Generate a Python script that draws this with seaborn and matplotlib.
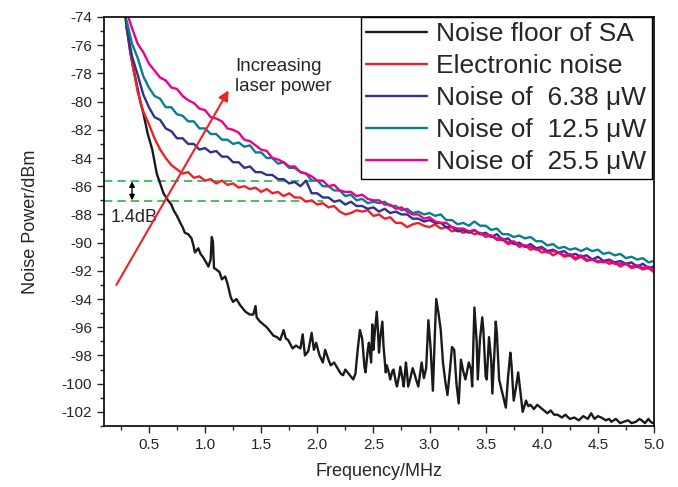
import numpy as np
import pandas as pd
import matplotlib
matplotlib.use('Agg')
import matplotlib.pyplot as plt
import seaborn as sns
from matplotlib.ticker import MultipleLocator, FormatStrFormatter

# legend labels and colours
labels = ['Noise floor of SA', 'Electronic noise', 'Noise of  6.38 μW',
          'Noise of  12.5 μW', 'Noise of  25.5 μW']
colors = ['#1a1a1a', '#ec2227', '#2e3192', '#0a7f8c', '#ec008c']

# noise floor of the spectrum analyser (irregular sampling)
sa_freq = [0.29, 0.33, 0.36, 0.39, 0.42, 0.45, 0.49, 0.53, 0.57, 0.60,
           0.63, 0.67, 0.70, 0.72, 0.75, 0.78, 0.80, 0.82, 0.85, 0.88,
           0.90, 0.91, 0.94, 0.96, 0.98, 1.01, 1.03, 1.05, 1.06, 1.07,
           1.08, 1.10, 1.13, 1.15, 1.18, 1.20, 1.23, 1.25, 1.28, 1.31,
           1.34, 1.36, 1.40, 1.43, 1.45, 1.46, 1.49, 1.52, 1.55, 1.58,
           1.61, 1.64, 1.67, 1.70, 1.72, 1.74, 1.78, 1.81, 1.85, 1.87,
           1.89, 1.92, 1.95, 1.97, 1.99, 2.02, 2.05, 2.07, 2.10, 2.12,
           2.15, 2.18, 2.21, 2.23, 2.25, 2.28, 2.30, 2.32, 2.34, 2.36,
           2.38, 2.40, 2.42, 2.43, 2.45, 2.46, 2.48, 2.49, 2.50, 2.51,
           2.53, 2.54, 2.55, 2.56, 2.58, 2.59, 2.61, 2.62, 2.64, 2.65,
           2.67, 2.68, 2.70, 2.71, 2.73, 2.74, 2.76, 2.77, 2.79, 2.80,
           2.81, 2.83, 2.85, 2.87, 2.88, 2.90, 2.93, 2.95, 2.97, 2.99,
           3.01, 3.03, 3.05, 3.06, 3.08, 3.10, 3.12, 3.14, 3.16, 3.18,
           3.20, 3.22, 3.24, 3.26, 3.28, 3.30, 3.32, 3.35, 3.37, 3.38,
           3.40, 3.42, 3.43, 3.45, 3.47, 3.48, 3.50, 3.51, 3.53, 3.55,
           3.56, 3.58, 3.59, 3.60, 3.62, 3.65, 3.68, 3.70, 3.72, 3.73,
           3.75, 3.77, 3.79, 3.81, 3.83, 3.86, 3.88, 3.90, 3.93, 3.96,
           3.99, 4.02, 4.05, 4.08, 4.11, 4.14, 4.18, 4.21, 4.25, 4.29,
           4.33, 4.37, 4.41, 4.44, 4.47, 4.50, 4.53, 4.57, 4.60, 4.62,
           4.66, 4.70, 4.73, 4.77, 4.80, 4.84, 4.87, 4.89, 4.92, 4.95,
           4.97, 4.99]
sa_power = [-74.0, -76.3, -77.6, -78.7, -79.9, -80.8, -82.3, -83.4, -85.1, -85.8,
            -86.5, -87.0, -87.3, -87.7, -88.1, -88.6, -88.9, -89.3, -89.4, -89.7,
            -90.3, -90.7, -90.4, -90.8, -91.0, -91.4, -91.7, -91.2, -89.6, -89.9,
            -91.8, -91.9, -92.1, -92.6, -92.4, -92.9, -93.9, -94.2, -94.0, -94.4,
            -94.7, -94.9, -95.1, -95.1, -94.5, -95.3, -95.6, -95.8, -96.0, -96.3,
            -96.6, -96.7, -96.9, -96.2, -96.8, -96.9, -97.5, -97.3, -97.5, -96.5,
            -98.0, -97.7, -96.4, -97.6, -97.1, -98.0, -98.5, -97.6, -98.3, -98.7,
            -98.5, -98.9, -99.3, -99.4, -99.0, -99.3, -99.5, -99.7, -99.3, -97.6,
            -96.2, -96.8, -98.8, -99.2, -97.6, -97.1, -98.5, -95.8, -97.6, -96.6,
            -94.9, -96.2, -97.8, -96.8, -95.6, -97.3, -99.2, -98.7, -99.3, -99.7,
            -99.1, -99.0, -99.9, -100.2, -99.4, -98.8, -99.7, -100.2, -98.5, -99.3,
            -100.2, -99.6, -98.9, -99.4, -99.7, -100.2, -98.5, -99.6, -98.9, -95.5,
            -97.5, -100.5, -96.0, -94.0, -95.0, -96.2, -98.5, -99.8, -100.8, -99.2,
            -97.4, -97.6, -100.0, -101.4, -98.3, -99.1, -99.7, -98.5, -99.0, -100.2,
            -94.6, -97.0, -99.7, -96.8, -95.3, -96.2, -99.5, -99.7, -96.7, -98.4,
            -100.7, -97.5, -95.6, -96.4, -99.7, -100.7, -101.7, -99.5, -97.8, -98.6,
            -101.2, -100.3, -99.2, -100.6, -102.0, -101.2, -101.6, -101.5, -101.8, -101.5,
            -101.7, -101.9, -102.1, -101.9, -102.2, -102.2, -102.4, -102.2, -102.5, -102.4,
            -102.6, -102.3, -102.5, -102.1, -102.5, -102.3, -102.4, -102.6, -102.5, -102.7,
            -102.5, -102.8, -102.7, -102.6, -102.8, -102.7, -102.5, -102.6, -102.8, -102.5,
            -102.7, -102.8]

# the four other traces share one frequency grid, 0.30 ... 5.00 MHz
freq = np.round(np.arange(0.30, 5.001, 0.05), 2)

electronic = [-74.6, -77.2, -79.3, -80.7, -81.6, -82.6, -83.4, -84.0, -84.5, -84.8,
              -85.1, -85.0, -85.4, -85.3, -85.6, -85.5, -85.8, -85.6, -85.9, -85.8,
              -86.1, -86.0, -86.2, -86.1, -86.4, -86.2, -86.5, -86.4, -86.7, -86.5,
              -86.8, -86.8, -87.1, -87.0, -87.3, -87.2, -87.5, -87.4, -87.8, -88.0,
              -87.9, -87.7, -87.8, -87.7, -88.1, -88.0, -88.3, -88.2, -88.6, -88.6,
              -88.9, -88.7, -88.6, -88.8, -88.9, -88.7, -89.0, -88.9, -89.2, -89.1,
              -89.3, -89.2, -89.4, -89.3, -89.6, -89.5, -89.8, -89.8, -90.1, -90.0,
              -90.3, -90.2, -90.5, -90.4, -90.7, -90.6, -90.9, -90.7, -91.0, -90.9,
              -91.2, -91.0, -91.3, -91.2, -91.4, -91.3, -91.5, -91.4, -91.7, -91.5,
              -91.8, -91.7, -91.9, -91.8, -92.1]

p_638 = [-74.7, -76.8, -78.1, -79.5, -80.4, -81.1, -81.3, -81.9, -82.1, -82.6,
         -82.6, -83.0, -83.0, -83.4, -83.3, -83.6, -83.5, -83.9, -83.9, -84.3,
         -84.3, -84.7, -84.6, -85.0, -85.0, -85.2, -85.2, -85.5, -85.5, -85.8,
         -85.7, -86.0, -85.6, -86.5, -86.5, -86.8, -86.8, -87.1, -87.0, -87.3,
         -87.1, -87.4, -87.4, -87.6, -87.5, -87.8, -87.6, -87.9, -87.8, -88.0,
         -88.0, -88.3, -88.3, -88.5, -88.4, -88.6, -88.6, -88.9, -88.9, -89.2,
         -89.1, -89.3, -89.1, -89.4, -89.3, -89.6, -89.4, -89.8, -89.7, -90.1,
         -90.0, -90.3, -90.1, -90.4, -90.3, -90.6, -90.5, -90.7, -90.6, -90.9,
         -90.8, -91.0, -90.9, -91.2, -91.0, -91.3, -91.2, -91.4, -91.3, -91.5,
         -91.4, -91.7, -91.5, -91.8, -91.7]

p_125 = [-74.2, -75.9, -76.9, -78.2, -79.0, -79.6, -79.8, -80.4, -80.4, -80.9,
         -81.0, -81.4, -81.4, -81.9, -81.9, -82.3, -82.3, -82.7, -82.7, -83.0,
         -82.9, -83.2, -83.1, -83.6, -83.6, -84.0, -84.0, -84.4, -84.3, -84.7,
         -84.7, -85.0, -85.1, -85.6, -85.6, -86.0, -86.0, -86.3, -86.3, -86.7,
         -86.6, -87.0, -86.9, -87.2, -87.1, -87.2, -87.1, -87.4, -87.4, -87.7,
         -87.6, -87.9, -87.8, -88.0, -87.9, -88.1, -88.0, -88.4, -88.4, -88.7,
         -88.6, -88.8, -88.5, -88.8, -88.8, -89.1, -89.0, -89.4, -89.4, -89.6,
         -89.5, -89.7, -89.6, -89.9, -89.9, -90.2, -90.1, -90.4, -90.3, -90.5,
         -90.4, -90.6, -90.4, -90.6, -90.5, -90.8, -90.7, -90.9, -90.8, -91.1,
         -91.0, -91.2, -91.1, -91.4, -91.3]

p_255 = [-73.6, -74.8, -75.9, -76.5, -77.3, -77.8, -78.3, -78.5, -79.0, -79.1,
         -79.6, -79.9, -80.1, -80.5, -80.6, -81.1, -81.2, -81.4, -81.9, -82.0,
         -82.2, -82.7, -82.8, -83.1, -83.4, -83.5, -84.0, -84.1, -84.3, -84.6,
         -84.6, -85.0, -85.1, -85.3, -85.6, -85.6, -86.0, -85.9, -86.3, -86.4,
         -86.4, -86.7, -86.6, -86.9, -87.0, -87.0, -87.3, -87.3, -87.6, -87.5,
         -87.8, -88.0, -88.0, -88.3, -88.2, -88.5, -88.6, -88.6, -88.9, -89.0,
         -89.0, -89.2, -89.1, -89.4, -89.4, -89.5, -89.7, -89.7, -90.0, -89.9,
         -90.2, -90.2, -90.3, -90.5, -90.4, -90.7, -90.6, -90.7, -90.9, -90.8,
         -91.1, -90.9, -91.2, -91.2, -91.3, -91.4, -91.3, -91.5, -91.5, -91.5,
         -91.7, -91.6, -91.8, -91.7, -92.0]

# 1.4 dB marker levels
level_hi = -85.6
level_lo = -87.05

frames = [pd.DataFrame({'freq': sa_freq, 'power': sa_power, 'series': labels[0]})]
for lab, vals in zip(labels[1:], [electronic, p_638, p_125, p_255]):
    frames.append(pd.DataFrame({'freq': freq, 'power': vals, 'series': lab}))
df = pd.concat(frames, ignore_index=True)

sns.set_style('ticks')
plt.rcParams['font.family'] = ['Liberation Sans', 'DejaVu Sans']
plt.rcParams['axes.unicode_minus'] = False

fig, ax = plt.subplots(figsize=(6.78, 4.87), dpi=100)
fig.subplots_adjust(left=0.1534, right=0.9646, bottom=0.1253, top=0.9651)

ax.hlines([level_hi, level_lo], 0.1, 2.05, colors='#2bb34b',
          linestyles=(0, (5, 3)), lw=1.2, zorder=1)

sns.lineplot(data=df, x='freq', y='power', hue='series', hue_order=labels,
             palette=colors, estimator=None, sort=False, lw=1.7, ax=ax, zorder=2)

ax.set_xlim(0.1, 5.0)
ax.set_ylim(-103, -74)
ax.xaxis.set_major_locator(MultipleLocator(0.5))
ax.xaxis.set_minor_locator(MultipleLocator(0.25))
ax.yaxis.set_major_locator(MultipleLocator(2))
ax.yaxis.set_minor_locator(MultipleLocator(1))
ax.xaxis.set_major_formatter(FormatStrFormatter('%.1f'))
ax.tick_params(which='major', direction='out', length=5, width=1, labelsize=11,
               top=False, right=False)
ax.tick_params(which='minor', direction='out', length=3, width=1,
               top=False, right=False)
for sp in ax.spines.values():
    sp.set_linewidth(1.2)
    sp.set_color('black')

ax.set_xlabel('Frequency/MHz', fontsize=13, labelpad=8)
ax.set_ylabel('Noise Power/dBm', fontsize=13, labelpad=16)

# annotations
ax.annotate('', xy=(0.35, level_hi - 0.05), xytext=(0.35, level_lo + 0.05),
            arrowprops=dict(arrowstyle='<|-|>', color='black', lw=1,
                            mutation_scale=8, shrinkA=0, shrinkB=0))
ax.text(0.16, -88.25, '1.4dB', fontsize=13, va='center', ha='left')
ax.annotate('', xy=(1.21, -79.2), xytext=(0.21, -93.0),
            arrowprops=dict(arrowstyle='-|>', color='#ec2227', lw=1.5,
                            mutation_scale=15, shrinkA=0, shrinkB=0))
ax.text(1.27, -76.9, 'Increasing\nlaser power', fontsize=13.5, va='top',
        ha='left', linespacing=1.22)

handles, labs = ax.get_legend_handles_labels()
ax.legend(handles, labs, loc='upper right', bbox_to_anchor=(0.996, 1.0),
          borderaxespad=0, fontsize=19, handlelength=2.3, handletextpad=0.35,
          labelspacing=0.3, frameon=True, fancybox=False, edgecolor='black',
          borderpad=0.2, framealpha=1)
ax.get_legend().get_frame().set_linewidth(1)

fig.savefig('out.png', dpi=100)
